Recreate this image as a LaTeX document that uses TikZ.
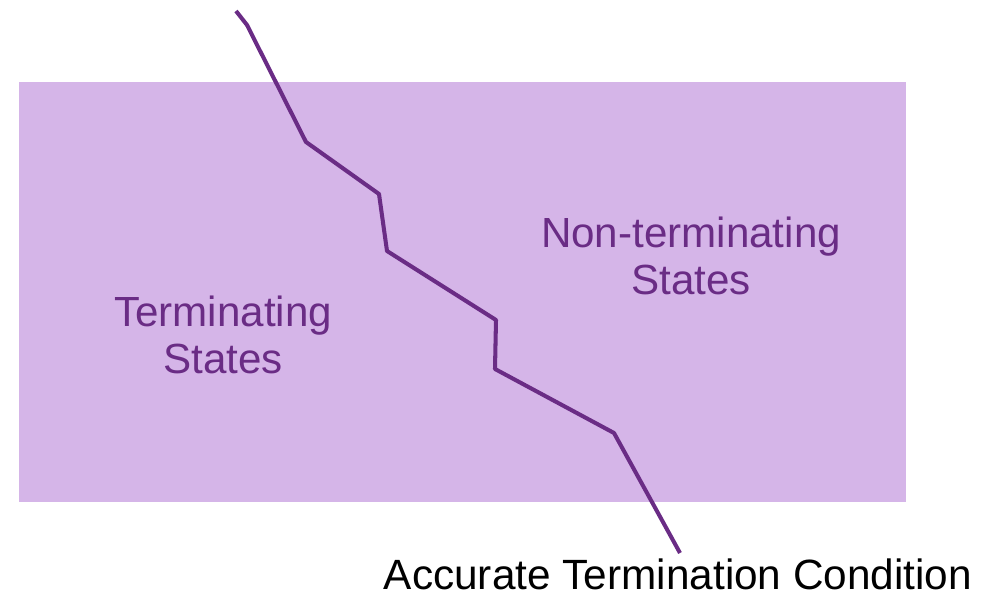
\documentclass[tikz,border=0pt]{standalone}
\usepackage{fontspec}
\setmainfont{Liberation Sans}
\definecolor{lilac}{HTML}{D5B5E8}
\definecolor{plum}{HTML}{6A2C85}
\tikzset{region/.style={text=plum,align=center,inner sep=0pt,font=\fontsize{24}{27}\selectfont}}
\begin{document}
\begin{tikzpicture}[x=0.02cm,y=-0.02cm]
\useasboundingbox (0,0) rectangle (981,594);
\fill[lilac] (19,82) rectangle (906,502);
\node[region] (term) at (223,335) {Terminating\\States};
\node[region] (nonterm) at (691,256) {Non-terminating\\States};
\node[inner sep=0pt,anchor=base,font=\fontsize{24.1}{27}\selectfont] (cond) at (678,589) {Accurate Termination Condition};
\coordinate (top) at (236,11);
\coordinate (bot) at (680,553);
\draw[plum,line width=2.3pt,line join=round] (top)--(247,25)--(306,142)--(379,194)--(387,251)
  --(496,320)--(495,369)--(614,433)--(bot);
\end{tikzpicture}
\end{document}
